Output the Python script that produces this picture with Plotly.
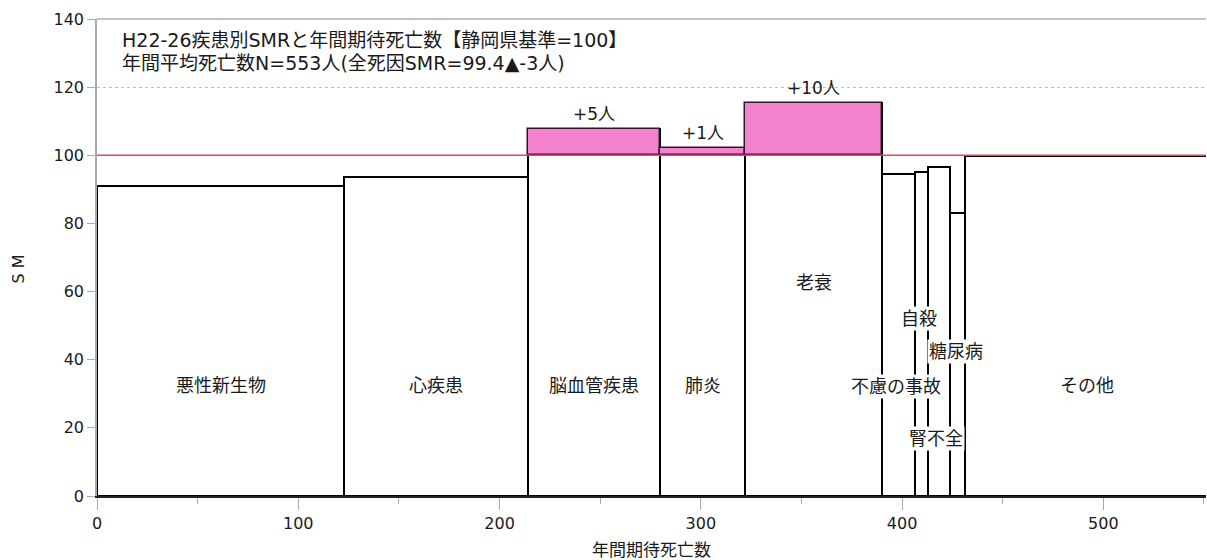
import plotly.graph_objects as go

# ---- data ----
categories = ["悪性新生物", "心疾患", "脳血管疾患", "肺炎", "老衰",
              "不慮の事故", "自殺", "糖尿病", "腎不全", "その他"]
expected_deaths = [122.9, 91.4, 65.2, 42.7, 67.6, 16.6, 6.5, 10.9, 7.4, 121.8]
smr = [91.0, 93.6, 107.7, 102.1, 115.3, 94.5, 95.1, 96.5, 83.1, 99.9]
excess_labels = {2: "+5人", 3: "+1人", 4: "+10人"}
baseline = 100
x_ticks = [0, 100, 200, 300, 400, 500]
y_ticks = [0, 20, 40, 60, 80, 100, 120, 140]

# label placement (layout only)
label_x = [None, None, None, None, None, 397.0, 408.6, 427.0, 417.0, None]
label_y = [32.3, 32.3, 32.3, 32.3, 62.6, 32.0, 52.2, 42.3, 17.0, 32.3]

FONT = "DejaVu Sans, Noto Sans CJK JP, sans-serif"
TXT = "#1a1a1a"

# bar centers from cumulative widths
lefts = []
acc = 0.0
for w in expected_deaths:
    lefts.append(acc)
    acc += w
centers = [l + w / 2 for l, w in zip(lefts, expected_deaths)]

fig = go.Figure()
fig.add_trace(go.Bar(
    x=centers, y=smr, width=expected_deaths,
    marker=dict(color="white", line=dict(color="black", width=2)),
    hoverinfo="skip", showlegend=False,
))
over_idx = [i for i, v in enumerate(smr) if v > baseline]
fig.add_trace(go.Bar(
    x=[centers[i] for i in over_idx],
    y=[smr[i] - baseline for i in over_idx],
    base=[baseline] * len(over_idx),
    width=[expected_deaths[i] for i in over_idx],
    marker=dict(color="#F383CE", line=dict(color="#3a1030", width=1.5)),
    hoverinfo="skip", showlegend=False,
))

# baseline line
fig.add_shape(type="line", xref="paper", x0=0, x1=1, yref="y", y0=baseline, y1=baseline,
              line=dict(color="#E5485C", width=1.5), layer="above")
# top border
fig.add_shape(type="line", xref="paper", x0=0, x1=1, yref="paper", y0=1, y1=1,
              line=dict(color="#b0b0b0", width=1.5), layer="below")

# category labels
for i, name in enumerate(categories):
    x = label_x[i] if label_x[i] is not None else centers[i]
    fig.add_annotation(x=x, y=label_y[i], text=name, showarrow=False,
                       font=dict(family=FONT, size=18, color=TXT),
                       bgcolor="white", borderpad=1)

# excess labels
for i, t in excess_labels.items():
    fig.add_annotation(x=centers[i], y=smr[i], text=t, showarrow=False,
                       yanchor="bottom", yshift=3,
                       font=dict(family=FONT, size=17, color=TXT))

# title lines
fig.add_annotation(xref="paper", yref="paper", x=0.0207, y=0.956, xanchor="left", yanchor="middle",
                   text="H22-26疾患別SMRと年間期待死亡数【静岡県基準=100】", showarrow=False,
                   font=dict(family=FONT, size=19, color=TXT))
fig.add_annotation(xref="paper", yref="paper", x=0.0207, y=0.908, xanchor="left", yanchor="middle",
                   text="年間平均死亡数N=553人(全死因SMR=99.4▲-3人)", showarrow=False,
                   font=dict(family=FONT, size=19, color=TXT))

# axis titles
fig.add_annotation(xref="paper", yref="paper", x=0.5, y=-0.113, xanchor="center", yanchor="middle",
                   text="年間期待死亡数", showarrow=False,
                   font=dict(family=FONT, size=17, color=TXT))
fig.add_annotation(xref="paper", yref="paper", x=-0.0712, y=0.475, xanchor="center", yanchor="middle",
                   text="S M", textangle=-90, showarrow=False,
                   font=dict(family=FONT, size=16, color=TXT))

fig.update_layout(
    width=1207, height=560,
    margin=dict(l=97, r=1, t=19, b=64, autoexpand=False),
    paper_bgcolor="white", plot_bgcolor="white",
    barmode="overlay", bargap=0,
    font=dict(family=FONT, size=16, color=TXT),
    xaxis=dict(
        range=[0, 551], tickvals=x_ticks, ticktext=[str(v) for v in x_ticks],
        showgrid=False, zeroline=False, automargin=False,
        showline=True, linecolor="#222", linewidth=2,
        ticks="outside", ticklen=12, tickcolor="#aaa", tickwidth=1,
        minor=dict(dtick=50, tick0=0, ticks="outside", ticklen=6, tickcolor="#aaa"),
        tickfont=dict(family=FONT, size=16, color=TXT),
    ),
    yaxis=dict(
        range=[0, 140], tickvals=y_ticks, ticktext=[str(v) for v in y_ticks],
        showgrid=True, gridcolor="#bdbdbd", griddash="dot", gridwidth=1,
        zeroline=False, automargin=False,
        showline=True, linecolor="#aaa", linewidth=1.5,
        ticks="outside", ticklen=8, tickcolor="#aaa",
        tickfont=dict(family=FONT, size=16, color=TXT),
    ),
)

fig.write_html("out.html", config={"displayModeBar": False},
               post_script="document.body.style.margin='0';document.body.style.overflow='hidden';")
